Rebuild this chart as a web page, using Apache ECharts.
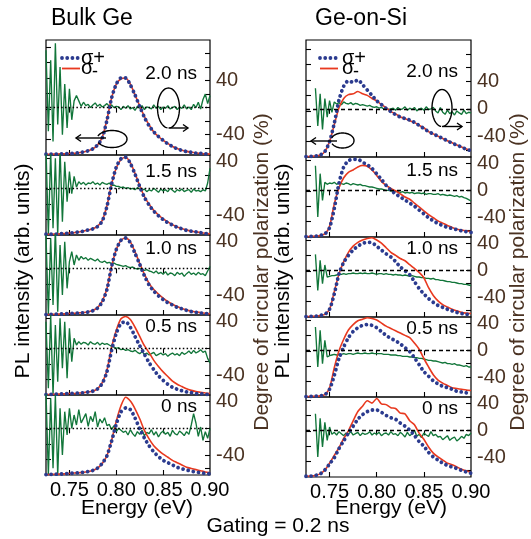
<!DOCTYPE html>
<html>
<head>
<meta charset="utf-8">
<script src="https://cdn.jsdelivr.net/npm/echarts@6/dist/echarts.min.js"></script>
<style>
  html, body { margin: 0; padding: 0; background: #fff; }
  #chart { width: 531px; height: 539px; }
</style>
</head>
<body>
<div id="chart"></div>
<script>
// Photon energy grids (eV): PL spectra and polarization degree
const energy = [0.725,0.730,0.735,0.740,0.745,0.750,0.755,0.760,0.765,0.770,0.775,0.780,0.785,0.790,0.795,0.800,0.805,0.810,0.815,0.820,0.825,0.830,0.835,0.840,0.845,0.850,0.855,0.860,0.865,0.870,0.875,0.880,0.885,0.890,0.895,0.900];
const energyFine = [0.7250,0.7275,0.7300,0.7325,0.7350,0.7375,0.7400,0.7425,0.7450,0.7475,0.7500,0.7525,0.7550,0.7575,0.7600,0.7625,0.7650,0.7675,0.7700,0.7725,0.7750,0.7775,0.7800,0.7825,0.7850,0.7875,0.7900,0.7925,0.7950,0.7975,0.8000,0.8025,0.8050,0.8075,0.8100,0.8125,0.8150,0.8175,0.8200,0.8225,0.8250,0.8275,0.8300,0.8325,0.8350,0.8375,0.8400,0.8425,0.8450,0.8475,0.8500,0.8525,0.8550,0.8575,0.8600,0.8625,0.8650,0.8675,0.8700,0.8725,0.8750,0.8775,0.8800,0.8825,0.8850,0.8875,0.8900,0.8925,0.8950,0.8975,0.9000];

const energyTicks = [0.75, 0.80, 0.85, 0.90];
const polLabelsBulk = [-40, 40];
const polLabelsSi = [-40, 0, 40];
const gateLabels = ['2.0 ns', '1.5 ns', '1.0 ns', '0.5 ns', '0 ns'];

// ---- Bulk Ge ----
const bulk20Plus  = [0.01,0.01,0.01,0.015,0.015,0.02,0.02,0.03,0.04,0.055,0.08,0.13,0.22,0.45,0.74,0.92,1.0,1.0,0.91,0.78,0.63,0.49,0.38,0.30,0.24,0.19,0.145,0.11,0.08,0.06,0.045,0.035,0.025,0.02,0.015,0.01];
const bulk20Minus = [0.01,0.01,0.012,0.014,0.016,0.02,0.022,0.03,0.04,0.055,0.08,0.13,0.23,0.46,0.74,0.92,0.99,1.0,0.92,0.78,0.64,0.50,0.39,0.30,0.24,0.19,0.15,0.11,0.085,0.062,0.047,0.036,0.027,0.02,0.016,0.012];
const bulk20Pol   = [85,-35,70,-50,95,-25,60,-40,35,-30,28,-18,10,18,10,2,8,3,5,0,4,7,2,5,1,3,6,2,4,0,2,1,-3,2,-1,3,-2,0,-4,2,-1,3,-3,1,0,-2,4,-1,2,-3,1,-1,3,-2,0,2,-3,1,-1,4,-2,1,-3,5,0,8,-2,12,20,6,18];

const bulk15Plus  = [0.01,0.01,0.012,0.015,0.02,0.025,0.03,0.04,0.05,0.065,0.08,0.11,0.18,0.37,0.66,0.88,0.99,1.01,0.93,0.79,0.63,0.49,0.39,0.31,0.25,0.20,0.16,0.13,0.10,0.08,0.06,0.05,0.04,0.03,0.02,0.015];
const bulk15Minus = [0.01,0.01,0.012,0.015,0.02,0.025,0.03,0.04,0.05,0.065,0.08,0.115,0.19,0.38,0.66,0.87,0.98,1.01,0.94,0.80,0.64,0.50,0.40,0.32,0.26,0.21,0.17,0.135,0.105,0.085,0.065,0.05,0.04,0.03,0.022,0.016];
const bulk15Pol   = [60,-70,55,-60,45,-70,60,-50,40,-20,25,-8,18,2,10,6,9,5,8,7,10,6,8,5,9,7,6,8,4,5,3,3,1,2,0,1,-1,0,-2,1,-1,-3,-1,-5,-2,-4,0,-3,-6,-1,-4,-2,-5,0,-3,-6,-2,-4,-1,-5,-3,-2,-6,-1,-4,-3,-5,-2,-4,8,30];

const bulk10Plus  = [0.005,0.008,0.01,0.012,0.015,0.02,0.02,0.025,0.03,0.04,0.055,0.09,0.17,0.33,0.63,0.85,0.97,1.0,0.94,0.80,0.66,0.51,0.39,0.31,0.25,0.20,0.16,0.13,0.10,0.08,0.06,0.045,0.035,0.025,0.02,0.015];
const bulk10Minus = [0.005,0.008,0.01,0.012,0.015,0.02,0.022,0.027,0.032,0.042,0.058,0.095,0.18,0.34,0.63,0.85,0.97,1.0,0.95,0.82,0.67,0.53,0.41,0.33,0.27,0.22,0.175,0.14,0.11,0.085,0.065,0.05,0.04,0.03,0.022,0.016];
const bulk10Pol   = [50,-70,45,-55,60,-65,35,-40,40,-30,10,25,5,20,12,18,14,16,12,15,13,11,14,10,9,11,8,9,7,8,6,5,4,3,4,2,1,2,0,-1,0,-2,-3,-2,-4,-5,-7,-4,-8,-6,-9,-5,-10,-7,-8,-11,-6,-9,-7,-12,-8,-5,-9,-7,-10,-6,-9,-8,-11,-4,3];

const bulk05Plus  = [0.005,0.008,0.01,0.012,0.015,0.02,0.02,0.025,0.03,0.04,0.05,0.08,0.15,0.30,0.58,0.80,0.93,0.95,0.88,0.76,0.64,0.53,0.42,0.33,0.25,0.19,0.14,0.10,0.075,0.055,0.04,0.03,0.02,0.015,0.01,0.008];
const bulk05Minus = [0.005,0.008,0.01,0.012,0.015,0.02,0.02,0.025,0.03,0.04,0.05,0.08,0.16,0.32,0.62,0.84,0.99,1.02,0.98,0.88,0.76,0.64,0.55,0.45,0.37,0.30,0.24,0.18,0.14,0.11,0.08,0.06,0.045,0.035,0.025,0.02];
const bulk05Pol   = [40,-60,50,-70,35,-50,45,-30,40,-45,30,-20,15,5,10,6,9,8,5,10,7,6,9,5,8,6,7,5,3,2,0,1,-2,-1,-3,-2,-4,-5,-3,-6,-8,-5,-9,-7,-10,-8,-6,-11,-9,-7,-10,-8,-12,-9,-7,-10,-8,-11,-6,-9,-7,-4,-8,-3,-7,-5,-2,-6,-4,-15,-22];

const bulk00Plus  = [0.005,0.008,0.01,0.012,0.015,0.02,0.025,0.03,0.035,0.045,0.06,0.09,0.15,0.25,0.44,0.66,0.82,0.87,0.85,0.74,0.60,0.48,0.38,0.30,0.24,0.19,0.16,0.13,0.10,0.08,0.065,0.05,0.04,0.03,0.02,0.015];
const bulk00Minus = [0.005,0.008,0.01,0.012,0.015,0.02,0.025,0.03,0.035,0.045,0.06,0.09,0.15,0.25,0.45,0.70,0.90,1.01,0.96,0.86,0.73,0.58,0.47,0.38,0.32,0.27,0.23,0.19,0.16,0.13,0.10,0.085,0.07,0.055,0.04,0.03];
const bulk00Pol   = [55,-70,45,-60,50,-70,30,-40,25,-10,30,0,20,5,28,8,15,22,3,18,10,25,2,14,8,16,4,6,-2,4,-5,0,-3,-6,-4,-10,-2,-8,-12,-5,-9,-3,-11,-6,-8,-2,-10,-5,-13,-7,-4,-9,-6,-12,-3,-8,-10,-4,-7,-11,-5,-9,5,22,8,-12,2,-18,-5,-15,0];

// ---- Ge-on-Si ----
const si20Plus  = [0.005,0.008,0.012,0.025,0.07,0.20,0.44,0.74,0.92,0.99,0.97,1.0,0.94,0.87,0.80,0.73,0.68,0.63,0.59,0.55,0.52,0.50,0.48,0.45,0.41,0.37,0.33,0.30,0.27,0.24,0.21,0.18,0.155,0.13,0.10,0.085];
const si20Minus = [0.005,0.008,0.012,0.025,0.07,0.20,0.42,0.64,0.76,0.81,0.82,0.85,0.82,0.80,0.76,0.73,0.68,0.64,0.59,0.56,0.52,0.50,0.47,0.45,0.41,0.38,0.33,0.30,0.27,0.24,0.21,0.185,0.155,0.13,0.105,0.085];
const si20Pol   = [null,null,null,null,30,-25,22,-30,15,-12,12,-5,10,7,9,6,10,8,7,9,6,8,7,5,6,5,4,5,3,2,3,1,2,0,1,-1,0,1,-2,2,-1,0,3,-2,1,-1,2,-3,0,1,-2,3,-1,0,2,-3,-6,2,-5,-8,-2,-7,-4,-9,-3,-6,-8,-2,-7,-5,-6];

const si15Plus  = [0.005,0.008,0.01,0.02,0.04,0.12,0.37,0.70,0.91,0.99,1.01,1.01,0.97,0.94,0.89,0.82,0.75,0.67,0.61,0.56,0.52,0.48,0.44,0.40,0.35,0.30,0.25,0.21,0.175,0.15,0.125,0.11,0.095,0.08,0.07,0.06];
const si15Minus = [0.005,0.008,0.01,0.02,0.04,0.14,0.43,0.64,0.77,0.84,0.87,0.91,0.93,0.92,0.87,0.80,0.72,0.67,0.63,0.60,0.56,0.52,0.49,0.44,0.39,0.34,0.29,0.25,0.21,0.18,0.15,0.125,0.10,0.09,0.08,0.07];
const si15Pol   = [null,null,null,null,37,-40,25,-15,12,9,11,10,12,9,11,10,9,11,10,8,10,9,8,9,7,7,6,5,5,4,3,2,2,1,0,0,-1,-1,-2,-2,-3,-2,-4,-3,-4,-3,-5,-4,-4,-5,-4,-6,-5,-5,-6,-6,-5,-7,-6,-7,-8,-7,-8,-9,-8,-10,-9,-11,-12,-14,-16];

const si10Plus  = [0.005,0.008,0.01,0.02,0.035,0.10,0.30,0.56,0.71,0.80,0.87,0.92,0.955,0.97,0.965,0.92,0.87,0.82,0.78,0.72,0.65,0.60,0.55,0.46,0.37,0.30,0.24,0.19,0.15,0.125,0.10,0.08,0.06,0.045,0.035,0.03];
const si10Minus = [0.005,0.008,0.01,0.02,0.035,0.10,0.33,0.56,0.72,0.84,0.92,0.97,1.0,1.02,1.03,1.0,0.96,0.90,0.84,0.80,0.76,0.73,0.68,0.63,0.58,0.51,0.38,0.28,0.21,0.16,0.13,0.10,0.08,0.06,0.05,0.045];
const si10Pol   = [null,null,null,null,24,-30,15,-20,8,-10,-9,-8,-8,-7,-6,-6,-5,-6,-5,-5,-4,-5,-5,-4,-5,-4,-5,-5,-4,-5,-6,-5,-5,-6,-5,-6,-6,-7,-6,-7,-7,-8,-7,-8,-9,-8,-9,-10,-10,-11,-11,-12,-12,-13,-12,-14,-14,-15,-15,-16,-17,-17,-18,-18,-19,-20,-20,-21,-21,-22,-23];

const si05Plus  = [0.005,0.008,0.01,0.015,0.03,0.10,0.28,0.50,0.65,0.77,0.85,0.90,0.93,0.94,0.93,0.90,0.85,0.80,0.76,0.73,0.69,0.64,0.59,0.51,0.42,0.33,0.27,0.21,0.17,0.14,0.12,0.10,0.075,0.065,0.055,0.05];
const si05Minus = [0.005,0.008,0.01,0.015,0.03,0.12,0.38,0.60,0.75,0.87,0.94,0.99,1.01,1.03,1.02,1.0,0.96,0.92,0.89,0.86,0.83,0.80,0.77,0.70,0.62,0.50,0.39,0.29,0.22,0.18,0.15,0.12,0.11,0.10,0.09,0.085];
const si05Pol   = [null,null,null,null,35,-25,30,-20,15,-10,-8,-7,-6,-7,-6,-6,-5,-6,-5,-5,-6,-5,-4,-5,-5,-4,-5,-5,-4,-5,-5,-5,-5,-6,-6,-6,-7,-7,-7,-8,-8,-9,-9,-9,-10,-10,-11,-11,-12,-12,-13,-14,-15,-15,-16,-16,-17,-18,-19,-18,-20,-20,-21,-20,-22,-22,-23,-24,-23,-25,-25];

const si00Plus  = [0.01,0.012,0.02,0.04,0.09,0.17,0.25,0.37,0.47,0.57,0.66,0.75,0.81,0.85,0.87,0.87,0.84,0.80,0.77,0.75,0.70,0.66,0.61,0.54,0.46,0.40,0.32,0.26,0.22,0.18,0.15,0.13,0.11,0.085,0.065,0.05];
const si00Minus = [0.01,0.012,0.02,0.04,0.09,0.18,0.28,0.38,0.50,0.60,0.73,0.85,0.92,0.99,0.96,1.02,0.95,0.94,0.90,0.89,0.83,0.82,0.73,0.68,0.57,0.49,0.39,0.31,0.26,0.22,0.18,0.16,0.13,0.10,0.08,0.06];
const si00Pol   = [null,null,null,null,25,-40,18,-25,12,-15,5,-6,-3,-7,-2,-5,-8,-4,-6,-2,-7,-5,-3,-8,-4,-6,-5,-2,-7,-4,-6,-3,-8,-5,-4,-7,-2,-6,-5,-8,-3,-6,-10,-3,-8,-5,0,-9,-6,-11,-4,-7,-9,-2,-8,-6,-10,-9,-14,-11,-8,-15,-12,-10,-16,-13,-9,-12,-6,-8,-4];

// ---- styling & layout ----
const FONT = '"Liberation Sans", Arial, Helvetica, sans-serif';
const BLUE = '#2b3b8f', RED = '#e8391f', GREEN = '#12763a', BROWN = '#4a3222';
const PX_PER_PL = 77;  // pixels per unit of normalized PL intensity

const columns = [
  {
    left: 46, width: 164,
    tops: [40, 155, 235, 315, 395], heights: [115, 80, 80, 80, 80],
    gateBaseline: [80, 178, 255, 333, 413],
    zeroDash: [1.5, 2.3], polLabels: polLabelsBulk,
    panels: [
      [bulk20Plus, bulk20Minus, bulk20Pol],
      [bulk15Plus, bulk15Minus, bulk15Pol],
      [bulk10Plus, bulk10Minus, bulk10Pol],
      [bulk05Plus, bulk05Minus, bulk05Pol],
      [bulk00Plus, bulk00Minus, bulk00Pol]
    ]
  },
  {
    left: 306, width: 165,
    tops: [40, 157, 237, 317, 397], heights: [117, 80, 80, 80, 80],
    gateBaseline: [78, 177, 255, 335, 415],
    zeroDash: [4, 3], polLabels: polLabelsSi,
    panels: [
      [si20Plus, si20Minus, si20Pol],
      [si15Plus, si15Minus, si15Pol],
      [si10Plus, si10Minus, si10Pol],
      [si05Plus, si05Minus, si05Pol],
      [si00Plus, si00Minus, si00Pol]
    ]
  }
];

const grid = [], xAxis = [], yAxis = [], series = [], graphic = [];
const tickStyle = { inside: true, length: 5, lineStyle: { color: '#000', width: 1.1 } };

columns.forEach((col) => {
  col.panels.forEach((panel, r) => {
    const g = grid.length;
    const top = col.tops[r], h = col.heights[r];
    const isFirst = r === 0, isLast = r === col.panels.length - 1;
    const [plus, minus, pol] = panel;

    grid.push({ left: col.left, top: top, width: col.width, height: h, show: true,
      borderColor: '#000', borderWidth: 1.2, backgroundColor: 'transparent' });

    ['bottom', 'top'].forEach((pos) => {
      xAxis.push({
        gridIndex: g, type: 'value', min: 0.725, max: 0.90, position: pos,
        axisLine: { show: false }, splitLine: { show: false },
        axisTick: Object.assign({}, tickStyle, { customValues: energyTicks.slice(0, 3) }),
        axisLabel: {
          show: pos === 'bottom' && isLast, customValues: energyTicks,
          formatter: (v) => v.toFixed(2), fontSize: 20, fontFamily: FONT, color: '#000', margin: 5
        }
      });
    });

    const plMax = h / PX_PER_PL;
    const polMax = isFirst ? 100 : 50;
    yAxis.push({
      gridIndex: g, type: 'value', min: 0, max: plMax, position: 'left',
      axisLine: { show: false }, splitLine: { show: false },
      axisTick: Object.assign({}, tickStyle, { customValues: isFirst ? [0.2, 0.4, 0.6, 0.8, 1.0, 1.2, 1.4] : [0.2, 0.4, 0.6, 0.8, 1.0] }),
      axisLabel: { show: false }
    });
    yAxis.push({
      gridIndex: g, type: 'value', min: -70, max: polMax, position: 'right',
      axisLine: { show: false }, splitLine: { show: false },
      axisTick: Object.assign({}, tickStyle, { customValues: isFirst ? [-60, -40, -20, 0, 20, 40, 60, 80] : [-60, -40, -20, 0, 20, 40] }),
      axisLabel: { show: true, customValues: col.polLabels, fontSize: 20, fontFamily: FONT, color: BROWN, margin: 6, align: 'left' }
    });

    series.push({
      type: 'line', xAxisIndex: 2 * g, yAxisIndex: 2 * g + 1,
      data: energyFine.map((e, i) => [e, pol[i]]),
      showSymbol: false, symbol: 'none', silent: true,
      lineStyle: { color: GREEN, width: 1.35 },
      markLine: {
        silent: true, symbol: ['none', 'none'], label: { show: false },
        lineStyle: { color: '#000', width: 1.4, type: col.zeroDash },
        data: [{ yAxis: 0 }]
      }
    });
    series.push({
      type: 'line', xAxisIndex: 2 * g, yAxisIndex: 2 * g,
      data: energy.map((e, i) => [e, minus[i]]),
      showSymbol: false, symbol: 'none', smooth: 0.25, silent: true,
      lineStyle: { color: RED, width: 1.6 }
    });
    series.push({
      type: 'line', xAxisIndex: 2 * g, yAxisIndex: 2 * g,
      data: energy.map((e, i) => [e, plus[i]]),
      showSymbol: false, symbol: 'none', smooth: 0.25, silent: true,
      lineStyle: { color: BLUE, width: 3.8, type: [0.01, 5.2], cap: 'round' }
    });

    // delay label inside the panel
    graphic.push({
      type: 'text', x: col.left + col.width - 13, y: col.gateBaseline[r] - 6.6, z: 10,
      style: { text: gateLabels[r], font: '19px ' + FONT, fill: '#000',
        textAlign: 'right', textVerticalAlign: 'middle', align: 'right', verticalAlign: 'middle' }
    });
  });
});

function addText(x, y, text, size, color, rot) {
  graphic.push({
    type: 'text', x: x, y: y, rotation: rot || 0, z: 10,
    style: { text: text, font: size + 'px ' + FONT, fill: color,
      textAlign: 'center', textVerticalAlign: 'middle', align: 'center', verticalAlign: 'middle' }
  });
}
function addLeftText(x, y, text, size, color) {
  graphic.push({
    type: 'text', x: x, y: y, z: 10,
    style: { text: text, font: size + 'px ' + FONT, fill: color,
      textAlign: 'left', textVerticalAlign: 'middle', align: 'left', verticalAlign: 'middle' }
  });
}

// column titles and axis names
addLeftText(51, 19, 'Bulk Ge', 23, '#000');
addLeftText(315, 19, 'Ge-on-Si', 23, '#000');
addText(23, 271, 'PL intensity (arb. units)', 21, '#000', Math.PI / 2);
addText(283, 271, 'PL intensity (arb. units)', 21, '#000', Math.PI / 2);
addText(262, 272, 'Degree of circular polarization (%)', 21, BROWN, Math.PI / 2);
addText(518, 272, 'Degree of circular polarization (%)', 21, BROWN, Math.PI / 2);
addText(137, 508, 'Energy (eV)', 21, '#000');
addText(391, 508, 'Energy (eV)', 21, '#000');
addText(278, 526, 'Gating = 0.2 ns', 21, '#000');

// legend keys in the top panels
[{ x: 62, tx: 81 }, { x: 320, tx: 342 }].forEach((k) => {
  graphic.push({ type: 'line', z: 10, shape: { x1: k.x, y1: 58, x2: k.x + 18, y2: 58 },
    style: { stroke: BLUE, lineWidth: 3.8, lineDash: [0.01, 5.2], lineCap: 'round' } });
  graphic.push({ type: 'line', z: 10, shape: { x1: k.x, y1: 68.5, x2: k.x + 18, y2: 68.5 },
    style: { stroke: RED, lineWidth: 1.8 } });
  addLeftText(k.tx, 58, 'σ+', 20, '#000');
  addLeftText(k.tx, 68, 'σ', 20, '#000');
  addLeftText(k.tx + 11, 72, '-', 18, '#000');
});

// circular-polarization symbols with arrows pointing to their axes
function ellipsePoints(cx, cy, rx, ry, a0, a1) {
  const pts = [];
  for (let a = a0; a <= a1; a += 5) {
    const t = a * Math.PI / 180;
    pts.push([cx + rx * Math.cos(t), cy + ry * Math.sin(t)]);
  }
  return pts;
}
const rotors = [
  { cx: 112, cy: 139, rx: 15, ry: 8.5, a0: 200, a1: 515, line: [106, 138, 76, 138], dir: -1 },
  { cx: 168.5, cy: 108, rx: 11, ry: 20, a0: 95, a1: 445, line: [168.5, 128, 188, 128], dir: 1 },
  { cx: 342.5, cy: 140.5, rx: 11.5, ry: 7.5, a0: 200, a1: 515, line: [337, 141, 311, 141], dir: -1 },
  { cx: 442, cy: 108, rx: 10, ry: 18.5, a0: 95, a1: 445, line: [442, 126.5, 462, 126.5], dir: 1 }
];
rotors.forEach((o) => {
  const st = { stroke: '#000', lineWidth: 1.4, fill: null };
  graphic.push({ type: 'polyline', z: 10, shape: { points: ellipsePoints(o.cx, o.cy, o.rx, o.ry, o.a0, o.a1) }, style: st });
  const [x1, y1, x2, y2] = o.line;
  graphic.push({ type: 'line', z: 10, shape: { x1, y1, x2, y2 }, style: st });
  const b = -o.dir * 5;
  graphic.push({ type: 'polyline', z: 10, shape: { points: [[x2 + b, y2 - 3.5], [x2, y2], [x2 + b, y2 + 3.5]] }, style: st });
});

const chart = echarts.init(document.getElementById('chart'), null, { renderer: 'canvas' });
chart.setOption({
  animation: false,
  backgroundColor: '#fff',
  textStyle: { fontFamily: FONT },
  grid, xAxis, yAxis, series, graphic
});
</script>
</body>
</html>
